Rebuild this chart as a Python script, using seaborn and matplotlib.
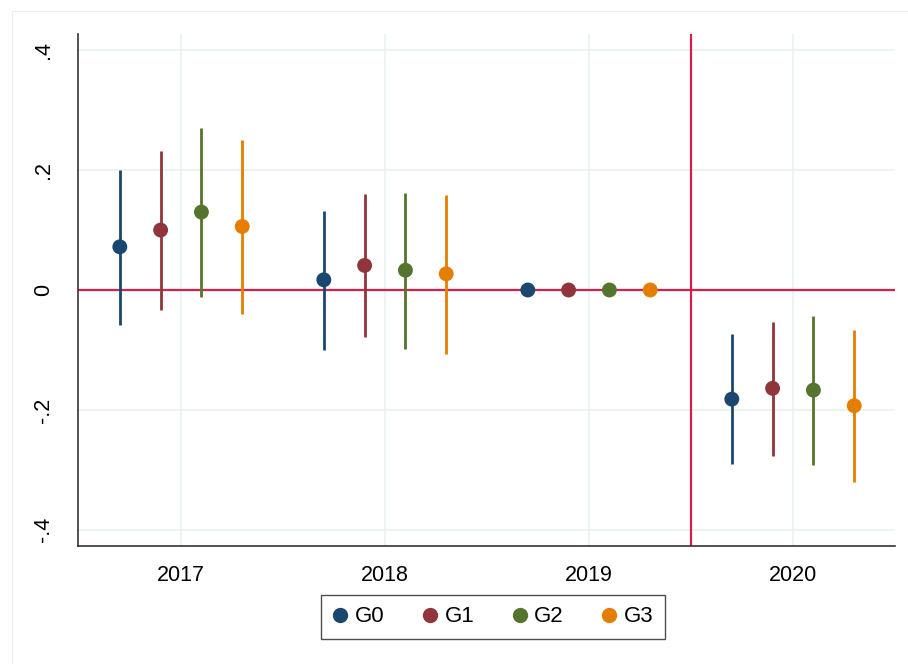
import matplotlib
matplotlib.use("Agg")
import matplotlib.pyplot as plt
import matplotlib.patches as ptc
import seaborn as sns
import pandas as pd
import numpy as np

years = [2017, 2018, 2019, 2020]
groups = ["G0", "G1", "G2", "G3"]
offsets = [-0.3, -0.1, 0.1, 0.3]

# point estimates and confidence bounds per group, one value per year
coef = {
    "G0": [0.072, 0.017, 0.0, -0.182],
    "G1": [0.100, 0.041, 0.0, -0.164],
    "G2": [0.130, 0.033, 0.0, -0.167],
    "G3": [0.106, 0.027, 0.0, -0.193],
}
ci_lo = {
    "G0": [-0.058, -0.100, 0.0, -0.290],
    "G1": [-0.033, -0.078, 0.0, -0.277],
    "G2": [-0.012, -0.098, 0.0, -0.292],
    "G3": [-0.040, -0.107, 0.0, -0.321],
}
ci_hi = {
    "G0": [0.200, 0.132, 0.0, -0.073],
    "G1": [0.232, 0.160, 0.0, -0.053],
    "G2": [0.270, 0.162, 0.0, -0.044],
    "G3": [0.251, 0.159, 0.0, -0.066],
}
yticks = [-0.4, -0.2, 0, 0.2, 0.4]
ytick_labels = ["-.4", "-.2", "0", ".2", ".4"]

colors = {"G0": "#1a476f", "G1": "#90353b", "G2": "#55752f", "G3": "#e37e00"}
refline = "#d41f4f"
gridc = "#eaf0f1"

rows = []
for g, off in zip(groups, offsets):
    for i, yr in enumerate(years):
        rows.append([g, yr + off, coef[g][i], ci_lo[g][i], ci_hi[g][i]])
df = pd.DataFrame(rows, columns=["group", "x", "coef", "lo", "hi"])

sns.set_theme(style="white")
plt.rcParams["font.family"] = ["Liberation Sans", "DejaVu Sans"]
plt.rcParams["text.color"] = "black"
plt.rcParams["xtick.color"] = "black"
plt.rcParams["ytick.color"] = "black"

fig = plt.figure(figsize=(9.08, 6.64), dpi=100)
fig.patches.append(ptc.Rectangle((12 / 908, -0.1), 1.2, 1 - 11 / 664 + 0.1, transform=fig.transFigure,
                                 fill=False, edgecolor="#eeeeee", linewidth=0.8))
ax = fig.add_axes([0.0859, 0.1777, 0.8998, 0.7711])

for y in yticks:
    if y != 0:
        ax.axhline(y, color=gridc, lw=1.2, zorder=0)
for yr in years:
    ax.axvline(yr, color=gridc, lw=1.2, zorder=0)

ax.axhline(0, color=refline, lw=1.6, zorder=1)
ax.axvline(2019.5, color=refline, lw=1.6, zorder=1)

for g in groups:
    sub = df[df["group"] == g]
    ax.vlines(sub["x"], sub["lo"], sub["hi"], color=colors[g], lw=2.0, zorder=2)

sns.scatterplot(data=df, x="x", y="coef", hue="group", palette=colors, hue_order=groups,
                s=115, edgecolor="none", zorder=3, ax=ax, legend=False)

ax.set_xlim(2016.495, 2020.5)
ax.set_ylim(-0.427, 0.427)
ax.set_xticks(years)
ax.set_xticklabels([str(y) for y in years], fontsize=15.5)
ax.set_yticks(yticks)
ax.set_yticklabels(ytick_labels, fontsize=15.5, rotation=90, va="center")
ax.set_xlabel("")
ax.set_ylabel("")
ax.tick_params(axis="both", direction="out", length=6, width=1, color="#333333", pad=8)
ax.tick_params(axis="y", pad=11)

for side in ["top", "right"]:
    ax.spines[side].set_visible(False)
for side in ["left", "bottom"]:
    ax.spines[side].set_color("#333333")
    ax.spines[side].set_linewidth(1.2)

handles = [plt.Line2D([], [], marker="o", ls="", color=colors[g], markersize=10) for g in groups]
leg = fig.legend(handles, groups, loc="center", bbox_to_anchor=(493 / 908, 1 - 617 / 664), ncol=4,
                 fontsize=16, frameon=True, fancybox=False, edgecolor="#222222",
                 handletextpad=0.3, columnspacing=1.7, borderpad=0.5, handlelength=0.7,
                 borderaxespad=0)
leg.get_frame().set_linewidth(1.0)

fig.savefig("out.png", dpi=100, facecolor="white")
